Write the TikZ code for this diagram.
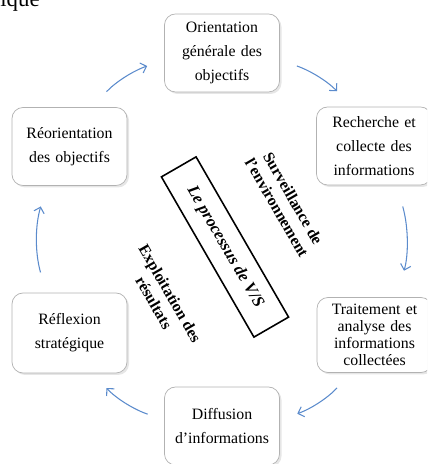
\documentclass[tikz,border=0pt]{standalone}
\usepackage{fontspec}
\setmainfont{Liberation Serif}
\usepackage{xcolor}
\usetikzlibrary{shapes,arrows,positioning,arrows.meta,shadows}

\definecolor{arrowblue}{RGB}{91,139,204}

\begin{document}
\begin{tikzpicture}[auto]

\clip (0,0) rectangle (8.54,9.28);

% Styles for boxes
\tikzstyle{box} = [rectangle, draw=gray!60, fill=white, text width=2.2cm, inner xsep=0.05cm, text centered, rounded corners=0.22cm, minimum height=1.56cm, font=\fontsize{9}{13.6}\selectfont, drop shadow={opacity=0.2, shadow xshift=0.04cm, shadow yshift=-0.04cm}]
\tikzstyle{lbl} = [rotate=-60, align=center, font=\bfseries\fontsize{9}{10.6}\selectfont]
\tikzstyle{cyc} = [draw=arrowblue, line width=0.6pt, -{Straight Barb[length=3pt,width=6pt]}]

% Fragment of the text above
\node [anchor=base west, inner sep=0, font=\fontsize{13}{15}\selectfont] (frag) at (0,9.14) {ique};

% Nodes
\node [box] (ori) at (4.44,8.22) {Orientation\\ générale des\\ objectifs};
\node [box] (rec) at (7.48,6.36) {Recherche et\\ collecte des\\ informations};
\node [box, minimum height=1.5cm, font=\fontsize{9}{9.8}\selectfont] (tra) at (7.49,2.58) {Traitement et\\ analyse des\\ informations\\ collectées};
\node [box] (dif) at (4.44,0.76) {Diffusion\\ d’informations};
\node [box, minimum height=1.6cm] (ref) at (1.39,2.62) {Réflexion\\ stratégique};
\node [box] (reo) at (1.39,6.35) {Réorientation\\ des objectifs};

% Centre
\node [draw, line width=0.9pt, rotate=-60, minimum width=3.7cm, minimum height=0.8cm, font=\bfseries\itshape\fontsize{9.5}{11}\selectfont] (vs) at (4.5,4.34) {Le processus de V/S};
\node [lbl] (surv) at (5.7,5.22) {Surveillance de\\ l'environnement};
\node [lbl] (expl) at (3.24,3.32) {Exploitation des\\ résultats};

% Edges
\draw[cyc, shorten <=0.42cm, shorten >=0.36cm] (reo.60) to[bend left=14] (ori.187);
\draw[cyc, shorten <=0.36cm, shorten >=0.42cm] (ori.-7) to[bend left=14] (rec.120);
\draw[cyc, shorten <=0.44cm, shorten >=0.55cm] (rec.-60) to[bend left=16] (tra.60);
\draw[cyc, shorten <=0.41cm, shorten >=0.37cm] (tra.-122) to[bend left=14] (dif.6);
\draw[cyc, shorten <=0.35cm, shorten >=0.40cm] (dif.174) to[bend left=14] (ref.-60);
\draw[cyc, shorten <=0.42cm, shorten >=0.43cm] (ref.120) to[bend left=16] (reo.-120);

\end{tikzpicture}
\end{document}
